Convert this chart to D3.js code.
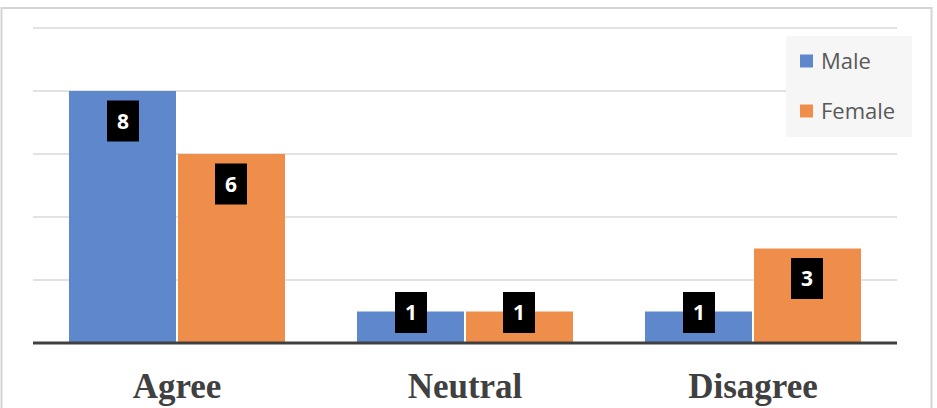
<!DOCTYPE html>
<html><head><meta charset="utf-8">
<script src="https://cdn.jsdelivr.net/npm/d3@7"></script>
<style>html,body{margin:0;padding:0;background:#fff;}svg{display:block;}</style>
</head><body><svg id="c" width="937" height="408"></svg>
<script>
const categories = ["Agree", "Neutral", "Disagree"];
const seriesNames = ["Male", "Female"];
const maleValues = [8, 1, 1];
const femaleValues = [6, 1, 3];
const yTicks = [0, 2, 4, 6, 8, 10];
const colors = ["#5f88cc", "#ef8e4b"];

(function () {
const svg = d3.select("#c");
const plotLeft = 33, plotRight = 897, plotTop = 28, plotBase = 343;

// outer border
svg.append("rect").attr("x", 1.5).attr("y", 8).attr("width", 930).attr("height", 410)
  .attr("fill", "#fff").attr("stroke", "#d4d4d4").attr("stroke-width", 2);

const x = d3.scaleBand().domain(categories).range([plotLeft, plotRight]).paddingInner(0.25).paddingOuter(0.125);
const xs = d3.scaleBand().domain(seriesNames).range([0, x.bandwidth()]);
const y = d3.scaleLinear().domain([0, 10]).range([plotBase, plotTop]);

// gridlines
svg.append("g").selectAll("line").data(yTicks.filter(d => d > 0)).join("line")
  .attr("x1", plotLeft).attr("x2", plotRight).attr("y1", d => y(d)).attr("y2", d => y(d))
  .attr("stroke", "#d9d9d9").attr("stroke-width", 1.5);

const data = categories.map((c, i) => ({cat: c, vals: [maleValues[i], femaleValues[i]]}));

const groups = svg.append("g").selectAll("g").data(data).join("g")
  .attr("transform", d => `translate(${x(d.cat)},0)`);

groups.selectAll("rect").data(d => d.vals.map((v, j) => ({v, s: seriesNames[j], j}))).join("rect")
  .attr("x", d => xs(d.s) + (d.j === 1 ? 1 : 0))
  .attr("width", xs.bandwidth() - 1)
  .attr("y", d => y(d.v))
  .attr("height", d => plotBase - y(d.v))
  .attr("fill", d => colors[d.j]);

// labels
const lab = groups.selectAll("g.lab").data(d => d.vals.map((v, j) => ({v, s: seriesNames[j], j}))).join("g")
  .attr("class", "lab")
  .attr("transform", d => {
    const cx = xs(d.s) + xs.bandwidth() / 2;
    const cy = (plotBase - y(d.v)) > 70 ? y(d.v) + 30 : y(d.v) + 1;
    return `translate(${cx},${cy})`;
  });
lab.append("rect").attr("x", -16).attr("y", -20.5).attr("width", 32).attr("height", 41).attr("fill", "#000");
lab.append("text").text(d => d.v).attr("text-anchor", "middle").attr("dy", "0.36em")
  .attr("fill", "#fff").attr("font-family", "'Open Sans', 'Liberation Sans', sans-serif")
  .attr("font-weight", "bold").attr("font-size", 21);

// baseline axis
const xAxis = svg.append("g").attr("transform", `translate(0,${plotBase})`)
  .call(d3.axisBottom(x).tickSize(0).tickPadding(0));
xAxis.select(".domain").attr("stroke", "#404040").attr("stroke-width", 3).attr("d", `M${plotLeft},0H${plotRight}`);
xAxis.selectAll("text").attr("y", 55).attr("dy", 0)
  .attr("font-family", "'Liberation Serif', 'Times New Roman', serif").attr("font-weight", "bold")
  .attr("font-size", 35).attr("fill", "#404040");

// legend
const lg = svg.append("g");
lg.append("rect").attr("x", 786).attr("y", 36).attr("width", 126).attr("height", 101).attr("fill", "#f6f6f6");
const li = lg.selectAll("g.li").data(seriesNames).join("g").attr("class", "li")
  .attr("transform", (d, i) => `translate(800,${61 + i * 50})`);
li.append("rect").attr("x", 0).attr("y", -6.5).attr("width", 13).attr("height", 13).attr("fill", (d, i) => colors[i]);
li.append("text").text(d => d).attr("x", 21).attr("dy", "0.35em")
  .attr("font-family", "'Open Sans', 'Liberation Sans', sans-serif").attr("font-size", 22).attr("fill", "#595959");
})();
</script></body></html>
